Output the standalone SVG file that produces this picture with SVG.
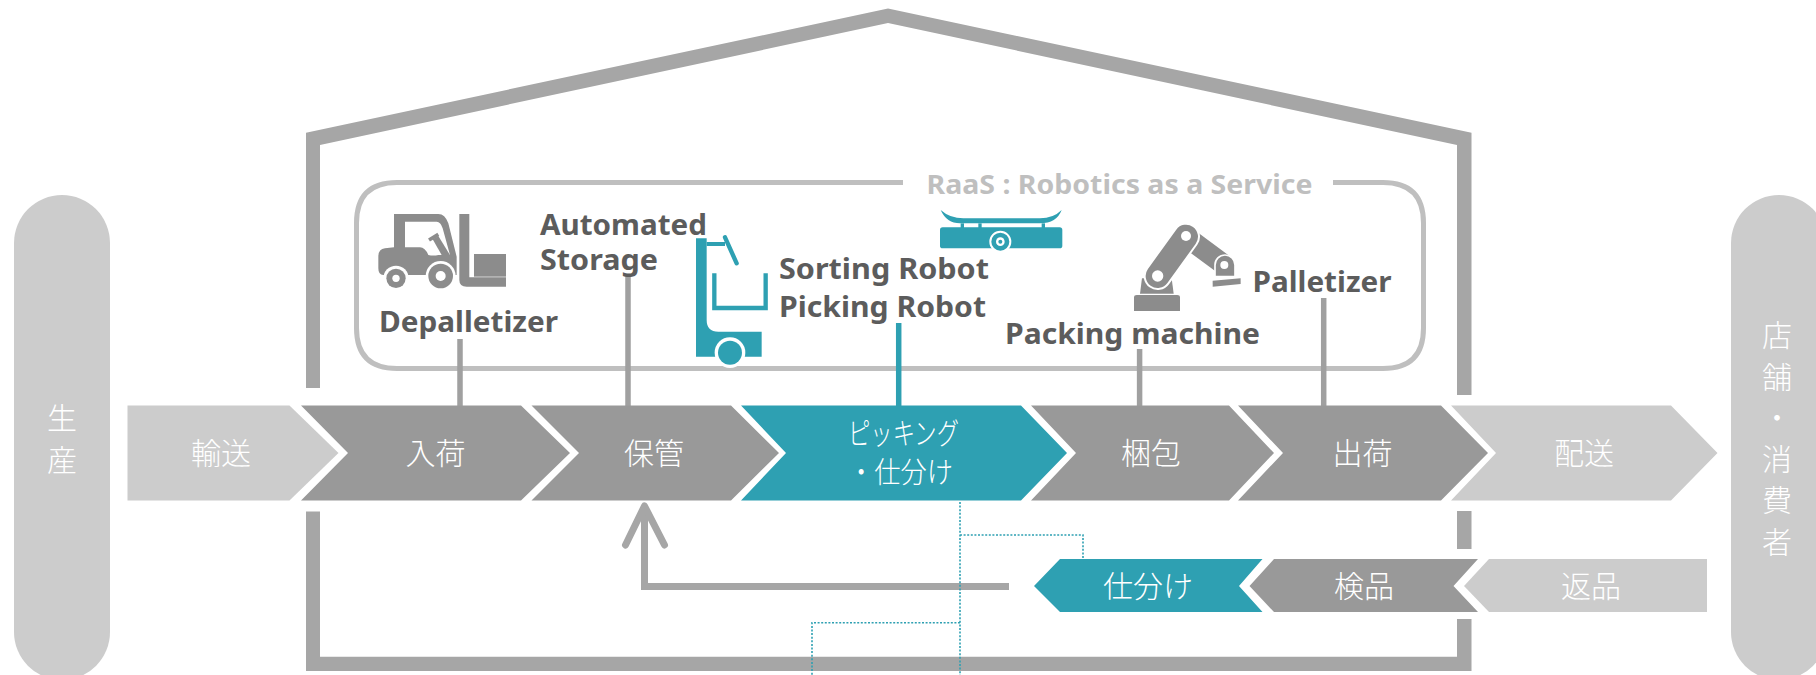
<svg xmlns="http://www.w3.org/2000/svg" width="1816" height="675" viewBox="0 0 1816 675">
<style>
.lab{font-family:"Noto Sans","Open Sans","Liberation Sans",sans-serif;font-weight:700;font-size:28px;fill:#5c5c5c}
.raas{font-family:"Noto Sans","Open Sans","Liberation Sans",sans-serif;font-weight:700;font-size:27px;fill:#bfbfbf}
.jp{font-family:"Noto Sans CJK JP","Noto Sans",sans-serif;font-size:30px;fill:#fff;text-anchor:middle;font-weight:300}
.dark{fill:#999}.light{fill:#ccc}.teal{fill:#2ea0b2}
.house{fill:#a6a6a6}
.lead{stroke:#a0a0a0;stroke-width:5.5;fill:none}
.dot{stroke:#2ea0b2;stroke-width:1.6;stroke-dasharray:2 1.6;fill:none}
.ic{fill:#8c8c8c}.ict{fill:#2ea0b2}
</style>
<rect width="1816" height="675" fill="#fff"/>
<g id="house">
<path class="house" d="M306 388V132.700L888 8.500L1471.500 132.700V395H1457V145L888 23L320 145V388Z"/>
<path class="house" d="M306 511.500H320V656.700H1457V619H1471.500V671H306Z"/>
<rect class="house" x="1457" y="511" width="14.500" height="38"/>
</g>
<g id="raas-frame">
<path d="M903 182.500H397Q356.500 182.500 356.500 223V328Q356.500 368.500 397 368.500H1383Q1423.500 368.500 1423.500 328V223Q1423.500 182.500 1383 182.500H1333" fill="none" stroke="#bfbfbf" stroke-width="5"/>
<text class="raas" x="926.500" y="194" textLength="386" lengthAdjust="spacingAndGlyphs">RaaS : Robotics as a Service</text>
</g>
<g id="node-production"><path class="light" d="M14 243a48 48 0 0 1 96 0V632a48 48 0 0 1-96 0Z"/>
<text class="jp" x="62" y="429">生</text><text class="jp" x="62" y="471">産</text></g>
<g id="node-consumer"><path class="light" d="M1731 243a48 48 0 0 1 96 0V632a48 48 0 0 1-96 0Z"/>
<text class="jp" x="1777" y="346">店</text><text class="jp" x="1777" y="388">舗</text><text class="jp" x="1777" y="429">・</text><text class="jp" x="1777" y="470">消</text><text class="jp" x="1777" y="511">費</text><text class="jp" x="1777" y="553">者</text></g>
<g id="connectors">
<path class="lead" d="M460 339V406M628 275V406M1139.600 349V406M1323.700 298V406"/>
<path class="lead" style="stroke:#2ea0b2" d="M898.700 323V406"/>
<path d="M1009 586.500H644.500V506" fill="none" stroke="#a6a6a6" stroke-width="7"/>
<path d="M625.500 545L644.500 506L664.500 545" fill="none" stroke="#a6a6a6" stroke-width="7" stroke-linecap="round" stroke-linejoin="round"/>
<path class="dot" d="M960 502V675M960 535H1083V559M960 622.700H812V675"/>
</g>
<g id="node-transport"><path class="light" d="M127.500 405.500H289.500L338.500 453L289.500 500.500H127.500Z"/><text class="jp" x="221" y="464">輸送</text></g>
<g id="node-inbound"><path class="dark" d="M301 405.500H521L570 453L521 500.500H301L348 453Z"/><text class="jp" x="435.500" y="464">入荷</text></g>
<g id="node-storage"><path class="dark" d="M531.500 405.500H731L779 453L731 500.500H531.500L579 453Z"/><text class="jp" x="654" y="464">保管</text></g>
<g id="node-picking"><path class="teal" d="M741 405.500H1021L1067 453L1021 500.500H741L786 453Z"/><text class="jp" style="font-size:30px;text-anchor:start" x="848" y="444" textLength="111" lengthAdjust="spacingAndGlyphs">ピッキング</text><text class="jp" style="font-size:29px;text-anchor:start" x="848" y="483" textLength="105" lengthAdjust="spacingAndGlyphs">・仕分け</text></g>
<g id="node-packing"><path class="dark" d="M1031 405.500H1229L1274 453L1229 500.500H1031L1076 453Z"/><text class="jp" x="1151" y="464">梱包</text></g>
<g id="node-shipping"><path class="dark" d="M1238 405.500H1441L1488 453L1441 500.500H1238L1283 453Z"/><text class="jp" x="1362.500" y="464">出荷</text></g>
<g id="node-delivery"><path class="light" d="M1451 405.500H1671L1717.500 453L1671 500.500H1451L1496 453Z"/><text class="jp" x="1584" y="464">配送</text></g>
<g id="node-sort"><path class="teal" d="M1034 586L1060 559H1262.500L1239 586L1262.500 612H1060Z"/><text class="jp" x="1148" y="597">仕分け</text></g>
<g id="node-inspect"><path class="dark" d="M1249.500 586L1274 559H1478L1453.500 586L1478 612H1274Z"/><text class="jp" x="1364" y="597">検品</text></g>
<g id="node-return"><path class="light" d="M1464 586L1489 559H1707V612H1489Z"/><text class="jp" x="1591" y="597">返品</text></g>
<g id="node-depalletizer">
<g transform="translate(370 200) scale(0.3333)">
<path class="ic" d="M72 42H205Q225 42 235 70L260 170V225H40Q25 225 25 205V170Q25 147 45 145L72 142Z"/>
<path fill="#fff" d="M105 65H200Q212 65 218 85L240 165L205 165Q190 168 175 165Q165 142 150 142H105Z"/>
<path d="M177 120L205 103" stroke="#8c8c8c" stroke-width="11"/>
<path class="ic" d="M188 118L205 108L240 165H215Z"/>
<circle cx="78" cy="235" r="38" fill="#fff"/><circle cx="78" cy="235" r="29" class="ic"/><circle cx="78" cy="235" r="11" fill="#fff"/>
<circle cx="212" cy="228" r="45" fill="#fff"/><circle cx="212" cy="228" r="37" class="ic"/><circle cx="212" cy="228" r="15" fill="#fff"/>
<path class="ic" d="M268 42H298V232H408V260H290Q268 260 268 240Z"/><rect class="ic" x="312" y="162" width="96" height="68"/>
</g>
<text class="lab" x="379" y="332" textLength="179" lengthAdjust="spacingAndGlyphs">Depalletizer</text>
</g>
<g id="node-sorting-robot">
<g transform="translate(690 230) scale(0.3333)" class="ict">
<path d="M18 25H50V270Q50 305 85 305H215V380H18Z"/>
<path d="M50 36H105V48H50Z"/>
<path d="M105 22L140 100" stroke="#2ea0b2" stroke-width="13" stroke-linecap="round"/>
<path d="M73 130V234H227V130" fill="none" stroke="#2ea0b2" stroke-width="13"/>
<circle cx="120" cy="368" r="46" fill="#fff"/><circle cx="120" cy="368" r="36"/>
</g>
<text class="lab" x="779" y="279" textLength="210" lengthAdjust="spacingAndGlyphs">Sorting Robot</text>
<text class="lab" x="779" y="317" textLength="207" lengthAdjust="spacingAndGlyphs">Picking Robot</text>
<g transform="translate(920 190) scale(0.3333)" class="ict">
<path d="M62 60Q90 85 130 85H360Q400 85 425 60Q410 100 360 100H120Q80 100 62 60Z"/>
<rect x="122" y="100" width="10" height="14"/><rect x="175" y="100" width="10" height="14"/><rect x="365" y="100" width="10" height="14"/>
<rect x="60" y="112" width="367" height="63" rx="8"/>
<circle cx="241" cy="155" r="30" stroke="#fff" stroke-width="6"/><circle cx="241" cy="155" r="13" fill="#fff"/><circle cx="241" cy="155" r="6"/>
</g>
</g>
<g id="node-automated-storage">
<text class="lab" x="540" y="235" textLength="167" lengthAdjust="spacingAndGlyphs">Automated</text>
<text class="lab" x="540" y="270" textLength="118" lengthAdjust="spacingAndGlyphs">Storage</text>
</g>
<g id="node-packing-machine">
<g transform="translate(1120 215) scale(0.3333)">
<path class="ic" d="M42 288V246Q42 240 50 240H172Q180 240 180 246V288Z"/>
<path class="ic" d="M60 236L66 190H155L161 236Z"/>
<path d="M198 65L313 150" stroke="#8c8c8c" stroke-width="62" stroke-linecap="round"/>
<path d="M113 183L198 65" stroke="#fff" stroke-width="84" stroke-linecap="round"/>
<path d="M113 183L198 65" stroke="#8c8c8c" stroke-width="72" stroke-linecap="round"/>
<path class="ic" d="M285 185V150A30 30 0 0 1 345 150V185Z" stroke="#fff" stroke-width="5"/>
<path class="ic" d="M278 197L362 190V207L278 215Z"/>
<circle cx="113" cy="183" r="17" fill="#fff"/><circle cx="198" cy="63" r="15" fill="#fff"/><circle cx="313" cy="150" r="12" fill="#fff"/>
</g>
<text class="lab" x="1005" y="344" textLength="255" lengthAdjust="spacingAndGlyphs">Packing machine</text>
</g>
<g id="node-palletizer">
<text class="lab" x="1252.500" y="292" textLength="139" lengthAdjust="spacingAndGlyphs">Palletizer</text>
</g>
</svg>
